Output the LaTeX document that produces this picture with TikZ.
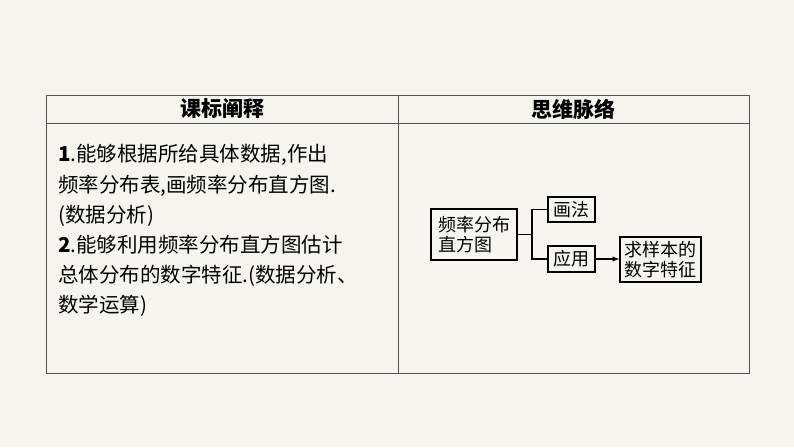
\documentclass[tikz,border=0pt]{standalone}
\usepackage{fontspec}
\setmainfont{Noto Sans CJK SC}
\definecolor{bg}{HTML}{F6F6EF}
\definecolor{ln}{HTML}{555555}
\begin{document}
\begin{tikzpicture}[x=1pt,y=-1pt,
  box/.style={draw=black,line width=1.3pt,inner sep=2pt,font=\fontsize{18}{19.5}\selectfont,align=left},
  txt/.style={anchor=west,inner sep=0pt,font=\fontsize{20.5}{22}\selectfont},
  hd/.style={inner sep=0pt,font=\fontsize{21}{23}\selectfont\bfseries},
  wire/.style={line width=1.3pt}]
\fill[bg] (0,0) rectangle (794,447);
\useasboundingbox (0,0) rectangle (794,447);
\draw[ln,line width=1pt] (46,95) rectangle (749,373);
\draw[ln,line width=1pt] (46,123) -- (749,123);
\draw[ln,line width=1pt] (398,95) -- (398,373);
\node[hd] (h1) at (222,109) {课标阐释};
\node[hd] (h2) at (573,109) {思维脉络};
\node[txt] (l1) at (58,155) {\textbf{1}.能够根据所给具体数据,作出};
\node[txt] (l2) at (58,186) {频率分布表,画频率分布直方图.};
\node[txt] (l3) at (58,216) {(数据分析)};
\node[txt] (l4) at (58,245) {\textbf{2}.能够利用频率分布直方图估计};
\node[txt] (l5) at (58,276) {总体分布的数字特征.(数据分析、};
\node[txt] (l6) at (58,306) {数学运算)};
\node[box,minimum width=86pt,minimum height=51pt,inner sep=1pt] (a) at (474,234.5) {频率分布\\直方图};
\node[box,minimum width=47pt,minimum height=25pt,inner sep=0pt] (b) at (571.5,209.5) {画法};
\node[box,minimum width=47pt,minimum height=26pt,inner sep=0pt] (c) at (571.5,259) {应用};
\node[box,minimum width=81pt,minimum height=45pt,inner sep=0pt] (d) at (660.5,259.5) {求样本的\\数字特征};
\coordinate (j) at (532,234.5);
\draw[wire] (a.east) -- (j) |- (b.west);
\draw[wire] (j) |- (c.west);
\draw[wire,-latex] (c.east) -- (d.west |- c.east);
\end{tikzpicture}
\end{document}
